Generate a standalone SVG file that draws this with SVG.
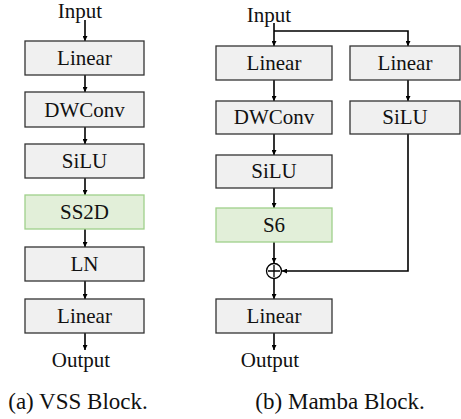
<svg xmlns="http://www.w3.org/2000/svg" width="461" height="419" viewBox="0 0 461 419">
<defs>
<marker id="ah" viewBox="0 0 8 8" refX="8" refY="4" markerWidth="5" markerHeight="5" markerUnits="userSpaceOnUse" orient="auto"><path d="M0,0 L8,4 L0,8 z" fill="#000"/></marker>
</defs>
<rect width="461" height="419" fill="#fff"/>
<g id="connectors" fill="none" stroke="#000" stroke-width="1.6" marker-end="url(#ah)">
<line x1="85" y1="20" x2="85" y2="41"/>
<line x1="85" y1="75" x2="85" y2="92"/>
<line x1="85" y1="127" x2="85" y2="144"/>
<line x1="85" y1="178" x2="85" y2="195"/>
<line x1="85" y1="229" x2="85" y2="247"/>
<line x1="85" y1="281" x2="85" y2="299"/>
<line x1="85" y1="333" x2="85" y2="350"/>
<line x1="274" y1="23" x2="274" y2="46"/>
<polyline points="274,31 408,31 408,46"/>
<line x1="274" y1="80" x2="274" y2="101"/>
<line x1="274" y1="134" x2="274" y2="155"/>
<line x1="274" y1="188" x2="274" y2="208"/>
<line x1="408" y1="80" x2="408" y2="101"/>
<line x1="274" y1="242" x2="274" y2="263"/>
<polyline points="408,134 408,271 282,271"/>
<line x1="274" y1="279" x2="274" y2="299"/>
<line x1="274" y1="333" x2="274" y2="350"/>
</g>
<g fill="#f0f0f0" stroke="#333" stroke-width="1.3">
<g id="vss-linear1"><rect x="25" y="41" width="119" height="34"/></g>
<g id="vss-dwconv"><rect x="25" y="92" width="119" height="35"/></g>
<g id="vss-silu"><rect x="25" y="144" width="119" height="34"/></g>
<g id="vss-ss2d"><rect fill="#e2efd9" stroke="#9fd08a" x="25" y="195" width="119" height="34"/></g>
<g id="vss-ln"><rect x="25" y="247" width="119" height="34"/></g>
<g id="vss-linear2"><rect x="25" y="299" width="119" height="34"/></g>
<g id="m-linear1"><rect x="216" y="46" width="116" height="34"/></g>
<g id="m-dwconv"><rect x="216" y="101" width="116" height="33"/></g>
<g id="m-silu"><rect x="216" y="155" width="116" height="33"/></g>
<g id="m-s6"><rect fill="#e2efd9" stroke="#9fd08a" x="216" y="208" width="116" height="34"/></g>
<g id="m-linear-r"><rect x="350" y="46" width="110" height="34"/></g>
<g id="m-silu-r"><rect x="350" y="101" width="110" height="33"/></g>
<g id="m-linear2"><rect x="216" y="299" width="116" height="34"/></g>
</g>
<g id="m-add"><circle cx="274" cy="271" r="7.5" fill="#fff" stroke="#000" stroke-width="1.3"/><path d="M268,271 H280 M274,265 V277" fill="none" stroke="#000" stroke-width="1.3"/></g>
<text font-family="Liberation Serif" font-size="21" fill="#111" text-anchor="middle" x="80" y="18">Input</text>
<text font-family="Liberation Serif" font-size="21" fill="#111" text-anchor="middle" x="81" y="367">Output</text>
<text font-family="Liberation Serif" font-size="23" fill="#111" text-anchor="middle" x="78" y="409">(a) VSS Block.</text>
<text font-family="Liberation Serif" font-size="21" fill="#111" text-anchor="middle" x="269" y="22">Input</text>
<text font-family="Liberation Serif" font-size="21" fill="#111" text-anchor="middle" x="270" y="367">Output</text>
<text font-family="Liberation Serif" font-size="23" fill="#111" text-anchor="middle" x="340" y="409">(b) Mamba Block.</text>
<text font-family="Liberation Serif" font-size="21" fill="#111" text-anchor="middle" x="84.5" y="65">Linear</text>
<text font-family="Liberation Serif" font-size="21" fill="#111" text-anchor="middle" x="84.5" y="117">DWConv</text>
<text font-family="Liberation Serif" font-size="21" fill="#111" text-anchor="middle" x="84.5" y="168">SiLU</text>
<text font-family="Liberation Serif" font-size="21" fill="#111" text-anchor="middle" x="84.5" y="219">SS2D</text>
<text font-family="Liberation Serif" font-size="21" fill="#111" text-anchor="middle" x="84.5" y="271">LN</text>
<text font-family="Liberation Serif" font-size="21" fill="#111" text-anchor="middle" x="84.5" y="323">Linear</text>
<text font-family="Liberation Serif" font-size="21" fill="#111" text-anchor="middle" x="274" y="70">Linear</text>
<text font-family="Liberation Serif" font-size="21" fill="#111" text-anchor="middle" x="274" y="124">DWConv</text>
<text font-family="Liberation Serif" font-size="21" fill="#111" text-anchor="middle" x="274" y="178">SiLU</text>
<text font-family="Liberation Serif" font-size="21" fill="#111" text-anchor="middle" x="274" y="232">S6</text>
<text font-family="Liberation Serif" font-size="21" fill="#111" text-anchor="middle" x="405" y="70">Linear</text>
<text font-family="Liberation Serif" font-size="21" fill="#111" text-anchor="middle" x="405" y="124">SiLU</text>
<text font-family="Liberation Serif" font-size="21" fill="#111" text-anchor="middle" x="274" y="323">Linear</text>
</svg>
